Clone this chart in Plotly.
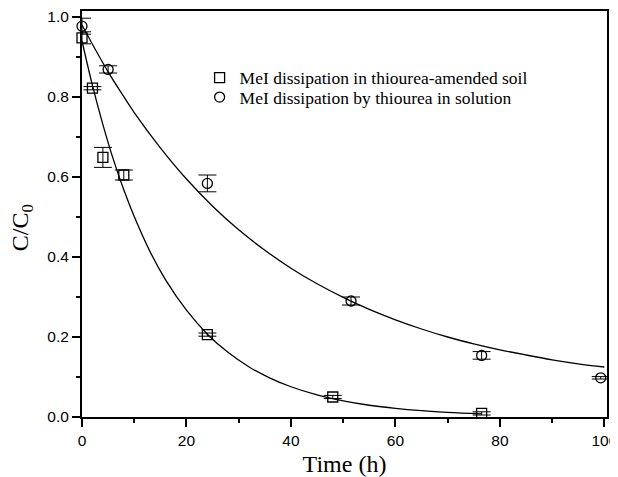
import plotly.graph_objects as go

soil_t = [0, 2, 4, 8, 24, 48, 76.5]
soil_c = [0.948, 0.822, 0.649, 0.605, 0.206, 0.050, 0.009]
soil_err = [0.015, 0.004, 0.025, 0.0125, 0.004, 0.004, 0.004]

sol_t = [0, 5, 24, 51.5, 76.5, 99.3]
sol_c = [0.977, 0.869, 0.584, 0.290, 0.154, 0.098]
sol_err = [0.02, 0.009, 0.021, 0.010, 0.0095, 0.003]

# Fitted curves
soil_fit_t = [0, 2, 4, 6, 8, 10, 13, 16, 20, 24, 28, 32, 36, 40, 45, 50, 55, 60, 65, 70, 76.5]
soil_fit_c = [0.940, 0.829, 0.731, 0.644, 0.568, 0.501, 0.414, 0.343, 0.267, 0.207, 0.161,
              0.125, 0.0973, 0.0756, 0.0552, 0.0403, 0.0294, 0.0215, 0.0157, 0.0114, 0.0076]

sol_fit_t = [0, 2.5, 5, 7.5, 10, 15, 20, 25, 30, 35, 40, 45, 50, 55, 60, 65, 70, 75, 80, 85, 90, 95, 100]
sol_fit_c = [0.980, 0.920, 0.863, 0.811, 0.761, 0.673, 0.595, 0.527, 0.468, 0.417, 0.372, 0.333,
             0.299, 0.269, 0.243, 0.220, 0.200, 0.183, 0.168, 0.155, 0.143, 0.133, 0.125]

x_ticks = [0, 20, 40, 60, 80, 100]
y_ticks = [0.0, 0.2, 0.4, 0.6, 0.8, 1.0]
y_tick_labels = ["0.0", "0.2", "0.4", "0.6", "0.8", "1.0"]

series_names = ["MeI dissipation in thiourea-amended soil", "MeI dissipation by thiourea in solution"]
x_title = "Time (h)"
y_title = "C/C<sub>0</sub>"

fig = go.Figure()

fig.add_trace(go.Scatter(x=soil_fit_t, y=soil_fit_c, mode="lines", line=dict(color="black", width=1.3, shape="spline"),
                         showlegend=False, hoverinfo="skip"))
fig.add_trace(go.Scatter(x=sol_fit_t, y=sol_fit_c, mode="lines", line=dict(color="black", width=1.3, shape="spline"),
                         showlegend=False, hoverinfo="skip"))

fig.add_trace(go.Scatter(x=soil_t, y=soil_c, mode="markers", name=series_names[0], legend="legend",
                         marker=dict(symbol="square-open", size=10, color="black", line=dict(width=1.3)),
                         error_y=dict(type="data", array=soil_err, visible=True, color="black", thickness=1, width=9),
                         cliponaxis=False))
fig.add_trace(go.Scatter(x=sol_t, y=sol_c, mode="markers", name=series_names[1], legend="legend2",
                         marker=dict(symbol="circle-open", size=10, color="black", line=dict(width=1.3)),
                         error_y=dict(type="data", array=sol_err, visible=True, color="black", thickness=1, width=9),
                         cliponaxis=False))

tick_font = dict(family="Arial, Liberation Sans, sans-serif", size=15.5, color="black")
title_font = dict(family="Times New Roman, Liberation Serif, serif", size=24, color="black")
legend_font = dict(family="Times New Roman, Liberation Serif, serif", size=17.5, color="black")

fig.update_layout(
    width=610, height=469,
    margin=dict(l=74, r=11, t=3, b=60, autoexpand=False),
    paper_bgcolor="white", plot_bgcolor="white",
    showlegend=True,
    legend=dict(x=0.224, y=0.880, xanchor="left", yanchor="top", font=legend_font,
                bgcolor="rgba(0,0,0,0)", itemwidth=30),
    legend2=dict(x=0.224, y=0.832, xanchor="left", yanchor="top", font=legend_font,
                 bgcolor="rgba(0,0,0,0)", itemwidth=30),
    annotations=[dict(text=y_title, textangle=-90, xref="paper", yref="paper",
                      x=-0.114, y=0.4655, xanchor="center", yanchor="middle",
                      showarrow=False, font=title_font)],
)
fig.update_xaxes(
    range=[0, 100.5], tickmode="array", tickvals=x_ticks, ticktext=[str(v) for v in x_ticks],
    showline=True, linecolor="black", linewidth=2, mirror=True,
    ticks="outside", ticklen=8, tickwidth=1.5, tickcolor="black",
    minor=dict(ticks="outside", ticklen=4, tickwidth=1.5, tickcolor="black", dtick=10, tick0=0),
    showgrid=False, zeroline=False, tickfont=tick_font, automargin=False,
    title=dict(text=x_title, font=title_font, standoff=9),
)
fig.update_yaxes(
    range=[0, 1.015], tickmode="array", tickvals=y_ticks, ticktext=y_tick_labels,
    showline=True, linecolor="black", linewidth=2, mirror=True,
    ticks="outside", ticklen=8, tickwidth=1.5, tickcolor="black",
    minor=dict(ticks="outside", ticklen=4, tickwidth=1.5, tickcolor="black", dtick=0.1, tick0=0),
    showgrid=False, zeroline=False, tickfont=tick_font, automargin=False,
)

fig.write_html("out.html")
